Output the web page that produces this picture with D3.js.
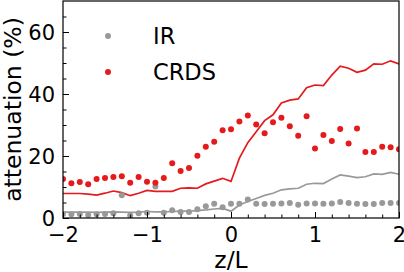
<!DOCTYPE html>
<html>
<head>
<meta charset="utf-8">
<script src="https://cdn.jsdelivr.net/npm/d3@7"></script>
<style>
  body { margin: 0; background: #fff; }
  text { font-family: "DejaVu Sans", sans-serif; fill: #000; }
</style>
</head>
<body>
<svg id="chart"></svg>
<script>
const width = 404;
const height = 272;
const margin = { top: 1, right: 5, bottom: 54, left: 63 };
const innerWidth = width - margin.left - margin.right;
const innerHeight = height - margin.top - margin.bottom;

// z/L positions
const zL = [-2.0, -1.9, -1.8, -1.7, -1.6, -1.5, -1.4, -1.3, -1.2, -1.1, -1.0,
  -0.9, -0.8, -0.7, -0.6, -0.5, -0.4, -0.3, -0.2, -0.1, 0.0,
  0.1, 0.2, 0.3, 0.4, 0.5, 0.6, 0.7, 0.8, 0.9, 1.0,
  1.1, 1.2, 1.3, 1.4, 1.5, 1.6, 1.7, 1.8, 1.9, 2.0];

// measured points
const crdsPts = [12.6, 11.2, 11.6, 10.9, 12.6, 12.9, 13.2, 13.5, 11.4, 13.2, 11.7,
  11.4, 12.9, 17.7, 15.2, 16.1, 20.1, 23.0, 24.6, 28.3, 28.6,
  31.1, 33.1, 30.2, 27.3, 30.9, 32.3, 29.6, 26.5, 32.8, 22.4,
  26.8, 24.8, 28.7, 24.0, 28.9, 21.3, 21.3, 23.0, 22.8, 22.2];
const irPts = [1.3, 1.2, 1.3, 1.0, 1.2, 1.3, 1.5, 7.3, 0.8, 1.5, 1.7,
  10.2, 1.7, 2.5, 1.9, 1.9, 2.8, 3.8, 4.6, 3.5, 4.6,
  4.6, 6.0, 4.6, 4.5, 4.6, 4.7, 4.8, 4.3, 4.7, 4.7,
  4.6, 4.7, 5.2, 4.8, 4.6, 4.5, 4.5, 4.8, 4.8, 4.8];

// lines
const crdsLine = [7.9, 7.9, 7.9, 7.7, 7.4, 8.0, 8.7, 8.2, 7.2, 8.0, 8.9,
  8.6, 8.6, 8.6, 9.6, 9.7, 9.6, 11.0, 11.9, 12.8, 11.8,
  19.3, 24.3, 27.8, 31.4, 33.3, 37.1, 38.0, 38.4, 42.0, 42.9,
  42.7, 46.1, 49.0, 48.3, 47.0, 47.7, 49.7, 49.6, 50.7, 49.7];
const irLine = [1.9, 1.9, 1.9, 1.9, 1.8, 1.9, 2.0, 1.9, 1.8, 1.9, 2.1,
  2.0, 2.0, 2.1, 2.2, 2.2, 2.4, 2.6, 2.9, 3.1, 2.2,
  4.2, 5.3, 6.3, 7.3, 8.0, 9.1, 9.4, 9.6, 10.9, 11.2,
  11.1, 12.6, 13.9, 13.5, 13.0, 13.3, 14.2, 14.1, 14.7, 14.1];

const xTicks = [-2, -1, 0, 1, 2];
const yTicks = [0, 20, 40, 60];
const xMinor = [-1.8, -1.6, -1.4, -1.2, -0.8, -0.6, -0.4, -0.2, 0.2, 0.4, 0.6, 0.8, 1.2, 1.4, 1.6, 1.8];
const yMinor = [5, 10, 15, 25, 30, 35, 45, 50, 55, 65];

const red = '#e41a1c';
const gray = '#999999';

const svg = d3.select('#chart')
  .attr('width', width)
  .attr('height', height)

const g = svg.append('g')
  .attr('transform', `translate(${margin.left},${margin.top})`)

const x = d3.scaleLinear().domain([-2, 2]).range([0, innerWidth])
const y = d3.scaleLinear().domain([0, 70]).range([innerHeight, 0])

svg.append('defs').append('clipPath')
  .attr('id', 'clip')
  .append('rect')
  .attr('width', innerWidth)
  .attr('height', innerHeight)

const plot = g.append('g').attr('clip-path', 'url(#clip)')

const line = d3.line()
  .x((d, i) => x(zL[i]))
  .y(d => y(d))

plot.append('path')
  .datum(irLine)
  .attr('d', line)
  .attr('fill', 'none')
  .attr('stroke', gray)
  .attr('stroke-width', 1.7)

plot.append('path')
  .datum(crdsLine)
  .attr('d', line)
  .attr('fill', 'none')
  .attr('stroke', red)
  .attr('stroke-width', 1.7)

plot.selectAll('.ir')
  .data(irPts)
  .enter()
  .append('circle')
  .attr('class', 'ir')
  .attr('cx', (d, i) => x(zL[i]))
  .attr('cy', d => y(d))
  .attr('r', 3)
  .attr('fill', gray)

plot.selectAll('.crds')
  .data(crdsPts)
  .enter()
  .append('circle')
  .attr('class', 'crds')
  .attr('cx', (d, i) => x(zL[i]))
  .attr('cy', d => y(d))
  .attr('r', 3)
  .attr('fill', red)

// axes, ticks inside
const xAxis = d3.axisBottom(x).tickValues(xTicks).tickSizeInner(-6).tickSizeOuter(0).tickPadding(9)
  .tickFormat(d => d < 0 ? '\u2212' + Math.abs(d) : d)
const yAxis = d3.axisLeft(y).tickValues(yTicks).tickSizeInner(-6).tickSizeOuter(0).tickPadding(8)

const xg = g.append('g')
  .attr('transform', `translate(0,${innerHeight})`)
  .call(xAxis)
const yg = g.append('g').call(yAxis)

g.append('g')
  .attr('transform', `translate(0,${innerHeight})`)
  .call(d3.axisBottom(x).tickValues(xMinor).tickSizeInner(-3.5).tickSizeOuter(0).tickFormat(''))
  .select('.domain').remove()
g.append('g')
  .call(d3.axisLeft(y).tickValues(yMinor).tickSizeInner(-3.5).tickSizeOuter(0).tickFormat(''))
  .select('.domain').remove()

g.selectAll('.tick line').attr('stroke', '#000').attr('stroke-width', 1)
xg.selectAll('.tick text').style('font-size', '21px').attr('font-family', null)
yg.selectAll('.tick text').style('font-size', '21px').attr('font-family', null)
  .attr('dy', '0.36em')

// frame
g.append('rect')
  .attr('width', innerWidth)
  .attr('height', innerHeight)
  .attr('fill', 'none')
  .attr('stroke', '#000')
  .attr('stroke-width', 1.2)
g.selectAll('.domain').remove()

// axis labels
svg.append('text')
  .attr('x', margin.left + innerWidth / 2)
  .attr('y', 268)
  .attr('text-anchor', 'middle')
  .style('font-size', '23.5px')
  .text('z/L')

svg.append('text')
  .attr('transform', `translate(21,${margin.top + innerHeight / 2}) rotate(-90)`)
  .attr('text-anchor', 'middle')
  .style('font-size', '23.5px')
  .text('attenuation (%)')

// legend
const legend = [['IR', gray, 36], ['CRDS', red, 72]]
legend.forEach(([label, color, ly]) => {
  svg.append('circle')
    .attr('cx', 108)
    .attr('cy', ly)
    .attr('r', 3)
    .attr('fill', color)
  svg.append('text')
    .attr('x', 153)
    .attr('y', ly)
    .attr('dy', '0.36em')
    .style('font-size', '22.5px')
    .text(label)
})
</script>
</body>
</html>
